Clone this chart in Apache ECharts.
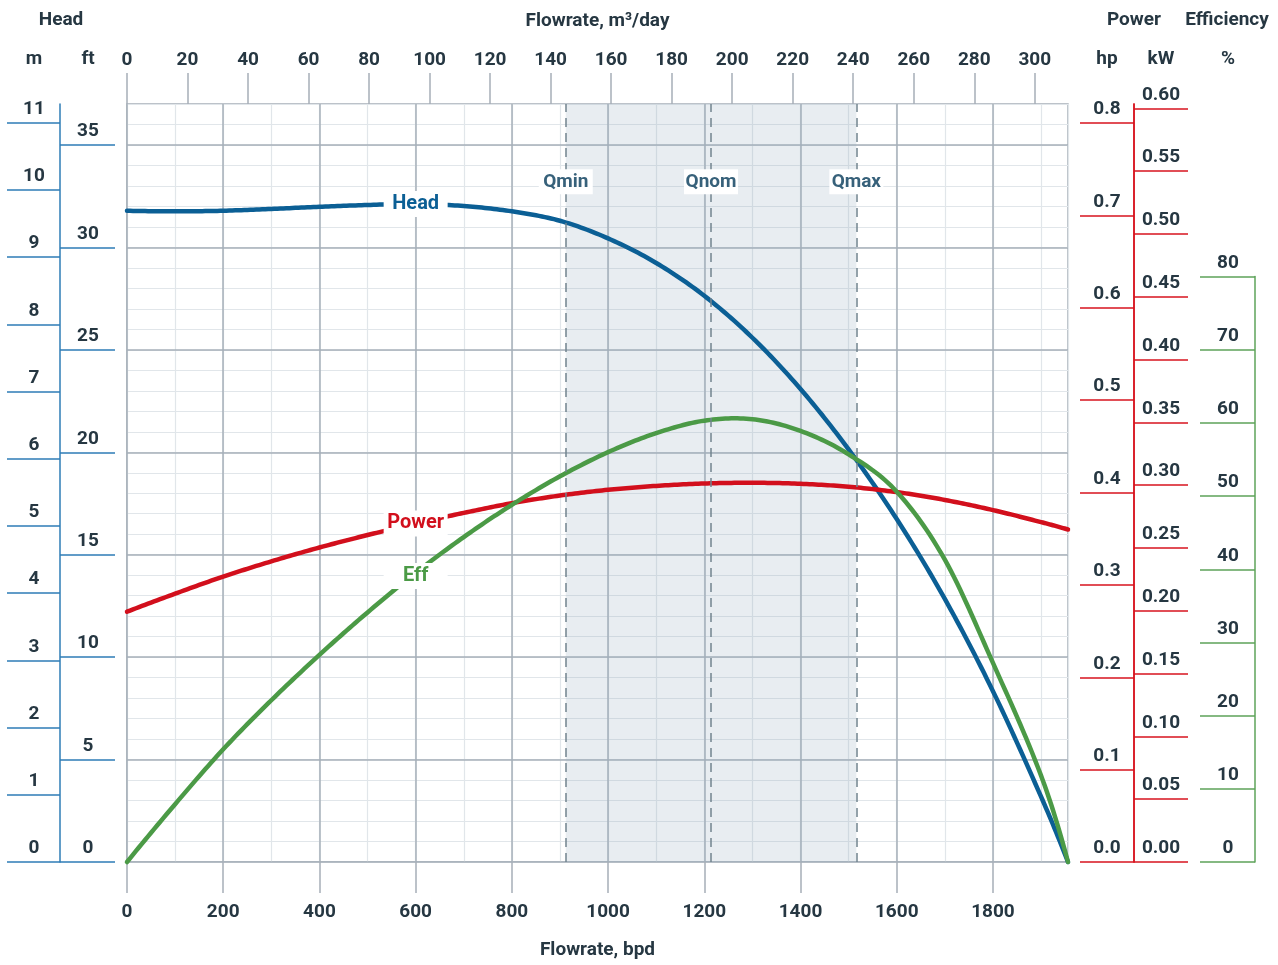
<!DOCTYPE html>
<html>
<head>
<meta charset="utf-8">
<script src="https://cdn.jsdelivr.net/npm/echarts@6/dist/echarts.min.js"></script>
<style>
html, body { margin: 0; padding: 0; background: #fff; }
#chart { width: 1278px; height: 965px; }
</style>
</head>
<body>
<div id="chart"></div>
<script>
// pump curve data (flow in bpd)
var flowBpd  = [0, 100, 200, 300, 400, 500, 600, 700, 800, 900, 1000, 1100, 1200, 1300, 1400, 1500, 1600, 1700, 1800, 1900, 1956];
var headFt   = [31.79, 31.76, 31.79, 31.88, 31.98, 32.07, 32.12, 32.02, 31.76, 31.30, 30.44, 29.24, 27.64, 25.59, 23.09, 20.14, 16.74, 12.84, 8.34, 3.19, 0];
var powerHp  = [0.271, 0.2905, 0.309, 0.3255, 0.3405, 0.354, 0.3665, 0.378, 0.3885, 0.3968, 0.403, 0.4072, 0.4098, 0.4106, 0.4095, 0.4063, 0.4005, 0.392, 0.381, 0.368, 0.360];
var effPct   = [0, 7.9, 15.4, 22.1, 28.3, 34.1, 39.5, 44.4, 48.8, 52.7, 56.0, 58.6, 60.3, 60.5, 58.9, 55.7, 50.6, 41.3, 27.2, 11.8, 0];

var qFlow  = [912, 1214, 1516];
var qNames = ['Qmin', 'Qnom', 'Qmax'];

// tick labels
var bpdTicks = [0, 200, 400, 600, 800, 1000, 1200, 1400, 1600, 1800];
var m3Ticks  = [0, 20, 40, 60, 80, 100, 120, 140, 160, 180, 200, 220, 240, 260, 280, 300];
var mTicks   = [0, 1, 2, 3, 4, 5, 6, 7, 8, 9, 10, 11];
var ftTicks  = [0, 5, 10, 15, 20, 25, 30, 35];
var hpTicks  = [0, 0.1, 0.2, 0.3, 0.4, 0.5, 0.6, 0.7, 0.8];
var kwTicks  = [0, 0.05, 0.1, 0.15, 0.2, 0.25, 0.3, 0.35, 0.4, 0.45, 0.5, 0.55, 0.6];
var effTicks = [0, 10, 20, 30, 40, 50, 60, 70, 80];

var flowMax = 1956;
var ftMax = 37;
var hpMax = 0.8207;
var kwMax = 0.6034;
var labelAt = 600;

var TEXT = '#263742';
var GRID_MAJOR = '#a6afb8';
var GRID_MINOR = '#e1e6ea';
var AX_BLUE = '#2e7cb6';
var AX_RED = '#d7141f';
var AX_GREEN = '#5ea35a';
var C_HEAD = '#0b5f95';
var C_POWER = '#d20f1c';
var C_EFF = '#4b9a46';
var C_Q = '#37617a';

function pairs(ys) {
    return flowBpd.map(function (x, i) { return [x, ys[i]]; });
}
function font(extra) {
    var f = { fontFamily: 'Roboto', fontWeight: 'bold', fontSize: 19, color: TEXT };
    for (var k in extra) f[k] = extra[k];
    return f;
}
function plain(v) { return String(v); }

// cubic hermite through the projected points (x grows along the curve)
function hermite(pts) {
    var n = pts.length, m = [], out = [];
    for (var i = 0; i < n; i++) {
        if (i > 0 && i < n - 1) {
            m[i] = (pts[i + 1][1] - pts[i - 1][1]) / (pts[i + 1][0] - pts[i - 1][0]);
        }
    }
    var d0 = (pts[1][1] - pts[0][1]) / (pts[1][0] - pts[0][0]);
    var dn = (pts[n - 1][1] - pts[n - 2][1]) / (pts[n - 1][0] - pts[n - 2][0]);
    m[0] = 2 * d0 - m[1];
    m[n - 1] = 2 * dn - m[n - 2];
    out.push(pts[0]);
    for (var k = 0; k < n - 1; k++) {
        var x1 = pts[k][0], y1 = pts[k][1], x2 = pts[k + 1][0], y2 = pts[k + 1][1];
        var h = x2 - x1;
        for (var s = 1; s <= 16; s++) {
            var t = s / 16, t2 = t * t, t3 = t2 * t;
            var y = (2 * t3 - 3 * t2 + 1) * y1 + (t3 - 2 * t2 + t) * h * m[k] +
                    (-2 * t3 + 3 * t2) * y2 + (t3 - t2) * h * m[k + 1];
            out.push([x1 + t * h, y]);
        }
    }
    return out;
}

function curveSeries(name, color, xIdx, yIdx, ys, dy) {
    return {
        name: name, type: 'custom', xAxisIndex: xIdx, yAxisIndex: yIdx, z: 4, silent: true,
        data: pairs(ys),
        encode: { x: 0, y: 1 },
        renderItem: function (params, api) {
            if (params.dataIndex !== 0) return null;
            var pts = [];
            for (var i = 0; i < params.dataInsideLength; i++) {
                pts.push(api.coord([api.value(0, i), api.value(1, i)]));
            }
            var lp = api.coord([labelAt, ys[flowBpd.indexOf(labelAt)]]);
            return {
                type: 'group',
                children: [
                    { type: 'polyline', shape: { points: hermite(pts) },
                      style: { stroke: color, lineWidth: 4.5, fill: null, lineJoin: 'round', lineCap: 'round' } },
                    { type: 'rect', shape: { x: lp[0] - 32, y: lp[1] + dy - 13, width: 64, height: 26 },
                      style: { fill: '#fff' } },
                    { type: 'text', x: lp[0], y: lp[1] + dy,
                      style: { text: name, fill: color, font: 'bold 20px Roboto', textAlign: 'center', textVerticalAlign: 'middle' } }
                ]
            };
        }
    };
}

var headers = [
    { t: 'Head', x: 61, y: 20 }, { t: 'm', x: 34, y: 59 }, { t: 'ft', x: 88, y: 59 },
    { t: 'Power', x: 1134, y: 20 }, { t: 'Efficiency', x: 1227, y: 20 },
    { t: 'hp', x: 1107, y: 59 }, { t: 'kW', x: 1161, y: 59 }, { t: '%', x: 1228, y: 59 }
];

var noZero = { onZero: false, show: false };

var chart = echarts.init(document.getElementById('chart'));
chart.setOption({
    animation: false,
    backgroundColor: '#fff',
    grid: [
        { left: 127, right: 210, top: 104, bottom: 103, show: true, borderColor: GRID_MAJOR, borderWidth: 1.5 },
        { left: 127, right: 210, top: 276.5, bottom: 103 }
    ],
    graphic: headers.map(function (h) {
        return {
            type: 'text', x: h.x, y: h.y, silent: true,
            style: { text: h.t, fill: TEXT, font: 'bold 19px Roboto', textAlign: 'center', textVerticalAlign: 'middle' }
        };
    }),
    xAxis: [
        {   // bpd, bottom
            type: 'value', gridIndex: 0, position: 'bottom', min: 0, max: flowMax, interval: 200, z: 1,
            axisLine: noZero,
            axisTick: { show: true, length: 31, customValues: bpdTicks, lineStyle: { color: GRID_MAJOR, width: 1.5 } },
            axisLabel: font({ customValues: bpdTicks, margin: 41, formatter: plain }),
            splitLine: { show: true, lineStyle: { color: GRID_MAJOR, width: 1.5 } },
            name: 'Flowrate, bpd', nameLocation: 'middle', nameGap: 79, nameTextStyle: font()
        },
        {   // minor vertical grid
            type: 'value', gridIndex: 0, position: 'bottom', min: 0, max: flowMax, interval: 100, z: 0,
            axisLine: noZero, axisTick: { show: false }, axisLabel: { show: false },
            splitLine: { show: true, lineStyle: { color: GRID_MINOR, width: 1.2 } }
        },
        {   // efficiency grid x
            type: 'value', gridIndex: 1, min: 0, max: flowMax, show: false, axisLine: noZero
        },
        {   // m3/day, top
            type: 'value', gridIndex: 0, position: 'top', min: 0, max: flowMax / 6.2898, interval: 20, z: 1,
            axisLine: noZero,
            axisTick: { show: true, length: 31, customValues: m3Ticks, lineStyle: { color: GRID_MAJOR, width: 1.5 } },
            axisLabel: font({ customValues: m3Ticks, margin: 34, formatter: plain }),
            splitLine: { show: false },
            name: 'Flowrate, m³/day', nameLocation: 'middle', nameGap: 73, nameTextStyle: font()
        }
    ],
    yAxis: [
        {   // ft
            type: 'value', gridIndex: 0, position: 'left', offset: 67, min: 0, max: ftMax, interval: 5, z: 1,
            axisLine: noZero,
            axisTick: { show: true, inside: true, length: 55, customValues: ftTicks, lineStyle: { color: AX_BLUE, width: 1.5 } },
            axisLabel: font({ inside: true, customValues: ftTicks, margin: 28, align: 'center', verticalAlign: 'bottom', padding: [0, 0, 4, 0] }),
            splitLine: { show: true, lineStyle: { color: GRID_MAJOR, width: 1.5 } }
        },
        {   // m
            type: 'value', gridIndex: 0, position: 'left', offset: 67, min: 0, max: ftMax / 3.28084, interval: 1, z: 1,
            axisLine: { show: true, onZero: false, lineStyle: { color: AX_BLUE, width: 1.5 } },
            axisTick: { show: true, length: 53, customValues: mTicks, lineStyle: { color: AX_BLUE, width: 1.5 } },
            axisLabel: font({ customValues: mTicks, margin: 26, align: 'center', verticalAlign: 'bottom', padding: [0, 0, 4, 0] }),
            splitLine: { show: false }
        },
        {   // minor horizontal grid
            type: 'value', gridIndex: 0, position: 'left', min: 0, max: ftMax, interval: 1, z: 0,
            axisLine: noZero, axisTick: { show: false }, axisLabel: { show: false },
            splitLine: { show: true, lineStyle: { color: GRID_MINOR, width: 1.2 } }
        },
        {   // hp
            type: 'value', gridIndex: 0, position: 'right', offset: 66, min: 0, max: hpMax, interval: 0.1, z: 1,
            axisLine: { show: true, onZero: false, lineStyle: { color: AX_RED, width: 1.5 } },
            axisTick: { show: true, inside: true, length: 54, customValues: hpTicks, lineStyle: { color: AX_RED, width: 1.5 } },
            axisLabel: font({ inside: true, customValues: hpTicks, margin: 27, align: 'center', verticalAlign: 'bottom', padding: [0, 0, 4, 0],
                formatter: function (v) { return v.toFixed(1); } }),
            splitLine: { show: false }
        },
        {   // kW
            type: 'value', gridIndex: 0, position: 'right', offset: 66, min: 0, max: kwMax, interval: 0.05, z: 1,
            axisLine: { show: true, onZero: false, lineStyle: { color: AX_RED, width: 1.5 } },
            axisTick: { show: true, length: 54, customValues: kwTicks, lineStyle: { color: AX_RED, width: 1.5 } },
            axisLabel: font({ customValues: kwTicks, margin: 27, align: 'center', verticalAlign: 'bottom', padding: [0, 0, 4, 0],
                formatter: function (v) { return v.toFixed(2); } }),
            splitLine: { show: false }
        },
        {   // efficiency %
            type: 'value', gridIndex: 1, position: 'right', offset: 187, min: 0, max: 80, interval: 10, z: 1,
            axisLine: { show: true, onZero: false, lineStyle: { color: AX_GREEN, width: 1.5 } },
            axisTick: { show: true, inside: true, length: 55, customValues: effTicks, lineStyle: { color: AX_GREEN, width: 1.5 } },
            axisLabel: font({ inside: true, customValues: effTicks, margin: 27, align: 'center', verticalAlign: 'bottom', padding: [0, 0, 4, 0] }),
            splitLine: { show: false }
        }
    ],
    series: [
        {   // operating range
            name: 'range', type: 'line', xAxisIndex: 0, yAxisIndex: 0, data: [], z: 2,
            markArea: {
                silent: true,
                itemStyle: { color: 'rgba(150,175,190,0.22)' },
                data: [[{ xAxis: qFlow[0] }, { xAxis: qFlow[2] }]]
            },
            markLine: {
                silent: true,
                symbol: ['none', 'none'],
                label: { show: false },
                lineStyle: { color: '#72848f', type: [9, 6], width: 1.5 },
                data: qFlow.map(function (v) { return { xAxis: v }; })
            },
            markPoint: {
                silent: true,
                symbol: 'rect',
                symbolSize: [54, 25],
                itemStyle: { color: '#fff' },
                label: font({ show: true, position: 'inside', formatter: '{b}', color: C_Q }),
                data: qFlow.map(function (v, i) { return { name: qNames[i], coord: [v, 33.2] }; })
            }
        },
        curveSeries('Head', C_HEAD, 0, 0, headFt, 0),
        curveSeries('Power', C_POWER, 0, 3, powerHp, 0),
        curveSeries('Eff', C_EFF, 2, 5, effPct, 3)
    ]
});
</script>
</body>
</html>
